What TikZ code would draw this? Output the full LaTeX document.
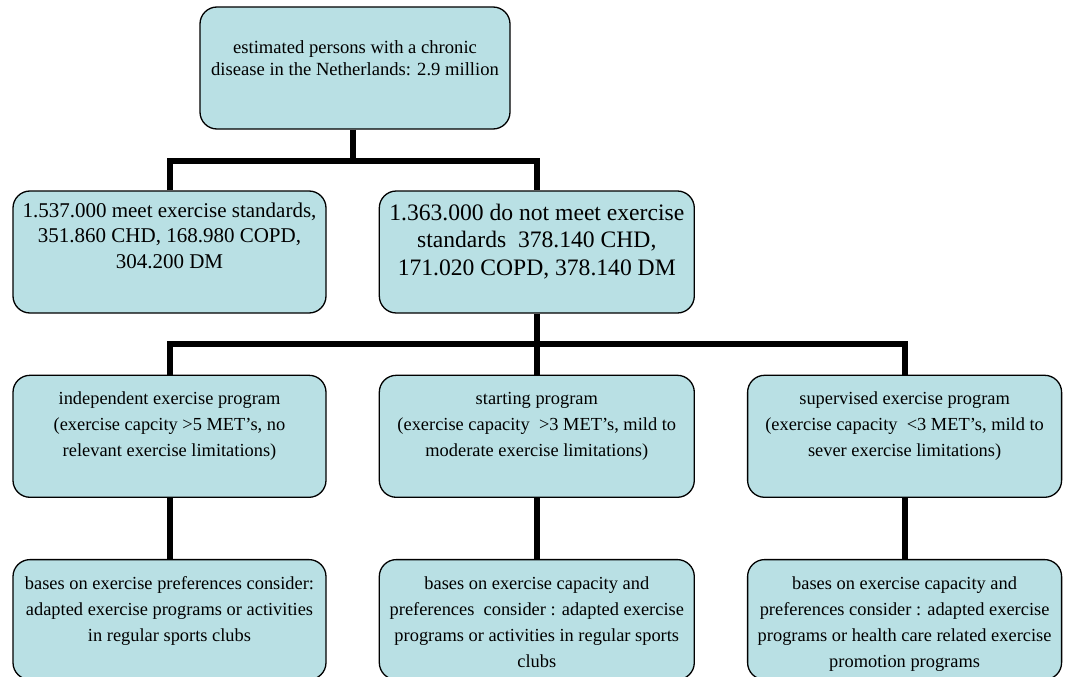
\documentclass[tikz,border=0pt]{standalone}
\usepackage{fontspec}
\setmainfont{Liberation Serif}
\usepackage{xcolor}
\usepackage{tikz}
\usetikzlibrary{positioning}
\definecolor{boxteal}{RGB}{185, 224, 228}
% text of a box: strut height for the first line, then the lines
\newcommand{\boxtext}[2]{\parbox[c][110pt][t]{306pt}{\centering\rule{0pt}{#1}#2\par}}
\tikzset{
    box/.style={
        rectangle,
        rounded corners=17pt,
        minimum width=313pt,
        minimum height=122pt,
        inner sep=0pt,
        draw=black,
        line width=1.3pt,
        fill=boxteal,
        font=\fontsize{18.4}{26}\selectfont
    },
    link/.style={
        line width=6pt,
        draw=black
    }
}
\begin{document}
\begin{tikzpicture}[x=1pt, y=-1pt]
    \useasboundingbox (0,0) rectangle (1066,677);

    % --- top ---
    \node (total) [box, minimum width=310pt, font=\fontsize{18.6}{22}\selectfont] at (355,68)
        {\boxtext{40.3pt}{estimated persons with a chronic\\disease in the Netherlands: 2.9 million}};

    % --- second row ---
    \node (meet) [box, font=\fontsize{21}{25.5}\selectfont] at (169.5,252)
        {\boxtext{20.3pt}{1.537.000 meet exercise standards,\\351.860 CHD, 168.980 COPD,\\304.200 DM}};
    \node (notmeet) [box, minimum width=315pt, font=\fontsize{23.6}{27.5}\selectfont, right=52pt of meet]
        {\boxtext{23pt}{1.363.000 do not meet exercise\\standards\ \ 378.140 CHD,\\171.020 COPD, 378.140 DM}};

    % --- programs ---
    \node (indep) [box, below=61pt of meet]
        {\boxtext{23.5pt}{independent exercise program\\(exercise capcity >5 MET's, no\\relevant exercise limitations)}};
    \node (starting) [box, minimum width=315pt, below=61pt of notmeet]
        {\boxtext{23.5pt}{starting program\\(exercise capacity\ \ >3 MET's, mild to\\moderate exercise limitations)}};
    \node (superv) [box, minimum width=314pt, right=52pt of starting]
        {\boxtext{23.5pt}{supervised exercise program\\(exercise capacity\ \ <3 MET's, mild to\\sever exercise limitations)}};

    % --- advice ---
    \node (indep_adv) [box, minimum height=120pt, below=61pt of indep]
        {\boxtext{25pt}{bases on exercise preferences consider:\\adapted exercise programs or activities\\in regular sports clubs}};
    \node (starting_adv) [box, minimum width=315pt, minimum height=120pt, below=61pt of starting]
        {\boxtext{25pt}{bases on exercise capacity and\\preferences\ \ consider : adapted exercise\\programs or activities in regular sports\\clubs}};
    \node (superv_adv) [box, minimum width=314pt, minimum height=120pt, below=61pt of superv]
        {\boxtext{25pt}{bases on exercise capacity and\\preferences consider : adapted exercise\\programs or health care related exercise\\promotion programs}};

    % connectors
    \coordinate (hub1) at ([xshift=-2pt, yshift=-31pt]total.south);
    \coordinate (hub2) at ([yshift=-30pt]notmeet.south);

    \draw [link] ([xshift=-2pt]total.south) -- (hub1);
    \draw [link] (meet.north) |- (hub1) -| (notmeet.north);

    \draw [link] (notmeet.south) -- (starting.north);
    \draw [link] (indep.north) |- (hub2) -| (superv.north);

    \draw [link] (indep.south) -- (indep_adv.north);
    \draw [link] (starting.south) -- (starting_adv.north);
    \draw [link] (superv.south) -- (superv_adv.north);
\end{tikzpicture}
\end{document}
